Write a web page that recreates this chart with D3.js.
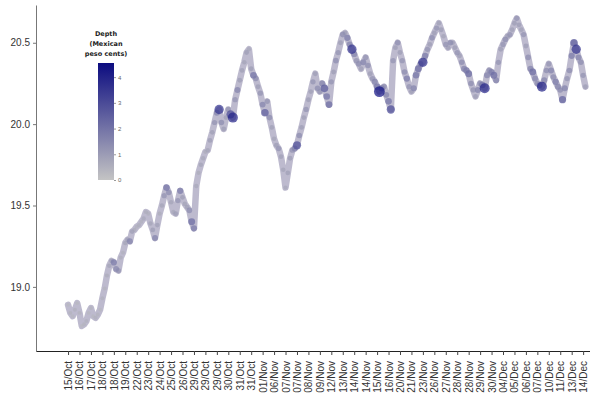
<!DOCTYPE html>
<html>
<head>
<meta charset="utf-8">
<script src="https://cdnjs.cloudflare.com/ajax/libs/d3/7.8.5/d3.min.js"></script>
<style>
  body { margin: 0; background: #fff; }
  svg { display: block; font-family: "DejaVu Sans", Verdana, sans-serif; }
</style>
</head>
<body>
<div id="main"></div>
<script>
// tick labels, one every 5 points
var tickLabels = ["15/Oct","16/Oct","17/Oct","18/Oct","18/Oct","19/Oct","22/Oct","23/Oct","24/Oct","25/Oct",
  "26/Oct","29/Oct","29/Oct","29/Oct","30/Oct","31/Oct","31/Oct","01/Nov","06/Nov","07/Nov",
  "07/Nov","08/Nov","09/Nov","12/Nov","13/Nov","14/Nov","14/Nov","15/Nov","16/Nov","20/Nov",
  "21/Nov","23/Nov","26/Nov","27/Nov","28/Nov","28/Nov","29/Nov","30/Nov","04/Dec","05/Dec",
  "06/Dec","07/Dec","10/Dec","11/Dec","13/Dec","14/Dec"];

// exchange rate (MXN)
var price = [18.89,18.84,18.82,18.86,18.90,18.84,18.76,18.77,18.79,18.84,
  18.87,18.82,18.81,18.83,18.86,18.93,18.99,19.07,19.13,19.16,
  19.15,19.11,19.10,19.18,19.21,19.27,19.29,19.28,19.34,19.35,
  19.37,19.38,19.40,19.42,19.46,19.45,19.39,19.35,19.30,19.38,
  19.45,19.50,19.56,19.61,19.58,19.52,19.46,19.45,19.53,19.59,
  19.55,19.51,19.49,19.47,19.40,19.36,19.62,19.70,19.75,19.79,
  19.83,19.84,19.90,19.95,20.01,20.07,20.09,20.01,19.97,20.04,
  20.09,20.06,20.04,20.15,20.21,20.27,20.33,20.38,20.44,20.46,
  20.34,20.30,20.28,20.23,20.19,20.12,20.07,20.14,20.04,19.98,
  19.91,19.87,19.85,19.80,19.72,19.61,19.70,19.79,19.84,19.85,
  19.87,19.93,19.98,20.04,20.09,20.15,20.20,20.26,20.31,20.22,
  20.20,20.25,20.22,20.17,20.12,20.26,20.32,20.39,20.44,20.50,
  20.55,20.56,20.53,20.49,20.46,20.43,20.39,20.37,20.34,20.38,
  20.41,20.36,20.31,20.28,20.26,20.23,20.20,20.22,20.23,20.18,
  20.14,20.09,20.39,20.47,20.50,20.44,20.39,20.32,20.28,20.23,
  20.20,20.22,20.30,20.34,20.37,20.38,20.42,20.46,20.49,20.53,
  20.56,20.59,20.62,20.58,20.54,20.49,20.47,20.50,20.50,20.47,
  20.44,20.42,20.38,20.34,20.33,20.31,20.25,20.21,20.17,20.21,
  20.25,20.24,20.22,20.30,20.33,20.32,20.30,20.27,20.38,20.46,
  20.49,20.52,20.54,20.55,20.58,20.62,20.65,20.61,20.58,20.55,
  20.48,20.41,20.34,20.32,20.28,20.25,20.24,20.23,20.27,20.33,
  20.37,20.33,20.29,20.26,20.23,20.21,20.15,20.22,20.28,20.33,
  20.42,20.50,20.46,20.41,20.38,20.30,20.23];

// depth (Mexican peso cents)
var depth = [0.3,0.4,0.3,0.5,0.3,0.4,0.3,0.4,0.5,0.3,
  0.4,0.3,0.5,0.4,0.3,0.5,0.4,0.6,0.8,1.0,
  1.8,1.5,1.2,0.6,0.5,0.8,1.0,1.6,0.9,0.6,
  0.5,0.6,0.5,0.7,0.6,0.5,0.8,1.0,1.6,0.9,
  0.6,0.8,1.2,2.0,1.4,0.8,0.7,1.0,1.2,1.8,
  1.0,0.8,0.9,1.4,2.2,1.8,0.7,0.6,0.8,0.7,
  0.6,0.8,1.0,0.9,1.2,1.6,3.6,1.4,1.0,0.9,
  1.2,3.0,4.0,1.2,1.6,1.0,0.9,0.8,1.0,0.7,
  1.0,2.0,1.4,1.0,1.2,1.6,2.6,1.2,1.4,0.9,
  0.8,1.0,1.2,0.9,0.8,0.7,0.9,1.0,1.2,1.6,
  3.0,1.4,1.0,0.9,1.2,1.0,0.9,1.2,1.0,1.4,
  1.2,1.6,2.6,2.0,2.2,1.2,1.0,1.4,1.2,1.0,
  1.4,1.0,1.8,1.6,3.6,1.6,1.2,1.4,1.0,1.6,
  1.2,1.4,1.0,1.2,1.6,2.0,4.5,1.8,1.4,1.6,
  2.0,3.0,1.2,1.0,1.4,1.0,1.2,1.4,1.8,1.2,
  1.0,1.6,2.0,2.2,1.6,3.6,1.8,1.2,1.0,1.4,
  1.0,1.2,0.9,1.0,0.8,1.2,1.0,1.4,0.9,1.0,
  1.2,1.0,1.4,1.6,1.8,2.2,1.4,1.2,1.0,1.6,
  1.4,2.0,4.0,1.6,1.4,1.8,2.2,1.6,1.2,1.0,
  1.2,1.4,1.0,1.2,0.9,1.0,1.2,1.0,0.9,1.2,
  1.0,1.4,1.6,2.2,1.6,1.4,1.8,4.0,1.6,1.4,
  1.2,1.6,1.4,1.8,1.6,1.4,2.4,1.6,1.2,1.4,
  1.8,2.6,3.6,1.6,1.4,1.2,1.0];

var yTicks = [19.0, 19.5, 20.0, 20.5];
var depthTicks = [0, 1, 2, 3, 4];
var depthMax = 4.55;
var step = 5;

var width = 590, height = 400;

var svg = d3.select("#main").append("svg")
    .attr("width", width)
    .attr("height", height);

var x = d3.scaleLinear()
    .domain([-14, 228])
    .range([36, 590]);

var y = d3.scaleLinear()
    .domain([18.606, 20.732])
    .range([351, 5]);

var color = d3.scaleLinear()
    .domain([0, depthMax])
    .range(["#c4c4c4", "#0c0c80"])
    .interpolate(d3.interpolateRgb);

var r = function(d){ return 1.6 + 0.85 * d; };

var data = price.map(function(p, i){ return {i: i, v: p, d: depth[i]}; });

// the dense trail of quotes, drawn as a thick band under the points
var band = d3.line()
    .x(function(d){ return x(d.i); })
    .y(function(d){ return y(d.v); });

svg.append("path")
    .datum(data)
    .attr("d", band)
    .attr("fill", "none")
    .attr("stroke", "#b6b3c9")
    .attr("stroke-width", 6.5)
    .attr("stroke-linejoin", "round")
    .attr("stroke-linecap", "round")
    .attr("stroke-opacity", 0.9);

// points, deepest on top
var sorted = data.slice().sort(function(a, b){ return a.d - b.d; });

svg.append("g")
    .attr("class", "points")
  .selectAll("circle")
    .data(sorted)
    .enter().append("circle")
      .attr("cx", function(d){ return x(d.i); })
      .attr("cy", function(d){ return y(d.v); })
      .attr("r", function(d){ return r(d.d); })
      .attr("fill", function(d){ return color(d.d); })
      .attr("fill-opacity", 0.7);

// y axis
var yAxis = d3.axisLeft(y)
    .tickValues(yTicks)
    .tickFormat(d3.format(".1f"))
    .tickSize(3)
    .tickSizeOuter(0)
    .tickPadding(3);

var gy = svg.append("g")
    .attr("transform", "translate(36,0)")
    .call(yAxis);
gy.select(".domain").attr("stroke", "#777");
gy.selectAll(".tick line").attr("stroke", "#777");
gy.selectAll("text").attr("fill", "#333").style("font-size", "10px");

// x axis
var xAxis = d3.axisBottom(x)
    .tickValues(tickLabels.map(function(l, i){ return i * step; }))
    .tickFormat(function(d, i){ return tickLabels[i]; })
    .tickSize(4)
    .tickSizeOuter(0);

var gx = svg.append("g")
    .attr("transform", "translate(0,351)")
    .call(xAxis);
gx.select(".domain").attr("stroke", "#222");
gx.selectAll(".tick line").attr("stroke", "#444");
gx.selectAll("text")
    .attr("transform", "rotate(-90)")
    .attr("x", -10)
    .attr("y", 0)
    .attr("dy", "0.35em")
    .attr("fill", "#333")
    .style("text-anchor", "end")
    .style("font-size", "10px");

// legend
var ly = d3.scaleLinear()
    .domain([0, depthMax])
    .range([180, 63]);

var grad = svg.append("defs").append("linearGradient")
    .attr("id", "depthGrad")
    .attr("x1", 0).attr("y1", 1)
    .attr("x2", 0).attr("y2", 0);
grad.append("stop").attr("offset", "0%").attr("stop-color", color(0));
grad.append("stop").attr("offset", "100%").attr("stop-color", color(depthMax));

var legend = svg.append("g").attr("class", "legend");

legend.append("rect")
    .attr("x", 98)
    .attr("y", ly(depthMax))
    .attr("width", 16)
    .attr("height", ly(0) - ly(depthMax))
    .attr("fill", "url(#depthGrad)");

var lAxis = d3.axisRight(ly)
    .tickValues(depthTicks)
    .tickFormat(d3.format("d"))
    .tickSize(2)
    .tickSizeOuter(0)
    .tickPadding(2);

var gl = legend.append("g")
    .attr("transform", "translate(114,0)")
    .call(lAxis);
gl.select(".domain").remove();
gl.selectAll(".tick line").attr("stroke", "#999");
gl.selectAll("text").attr("fill", "#666").style("font-size", "6px");

legend.selectAll(".ltitle")
    .data(["Depth", "(Mexican", "peso cents)"])
    .enter().append("text")
      .attr("class", "ltitle")
      .attr("x", 106)
      .attr("y", function(d, i){ return 36 + i * 10; })
      .attr("text-anchor", "middle")
      .attr("fill", "#222")
      .style("font-size", "6.5px")
      .style("font-weight", "bold")
      .text(function(d){ return d; });
</script>
</body>
</html>
